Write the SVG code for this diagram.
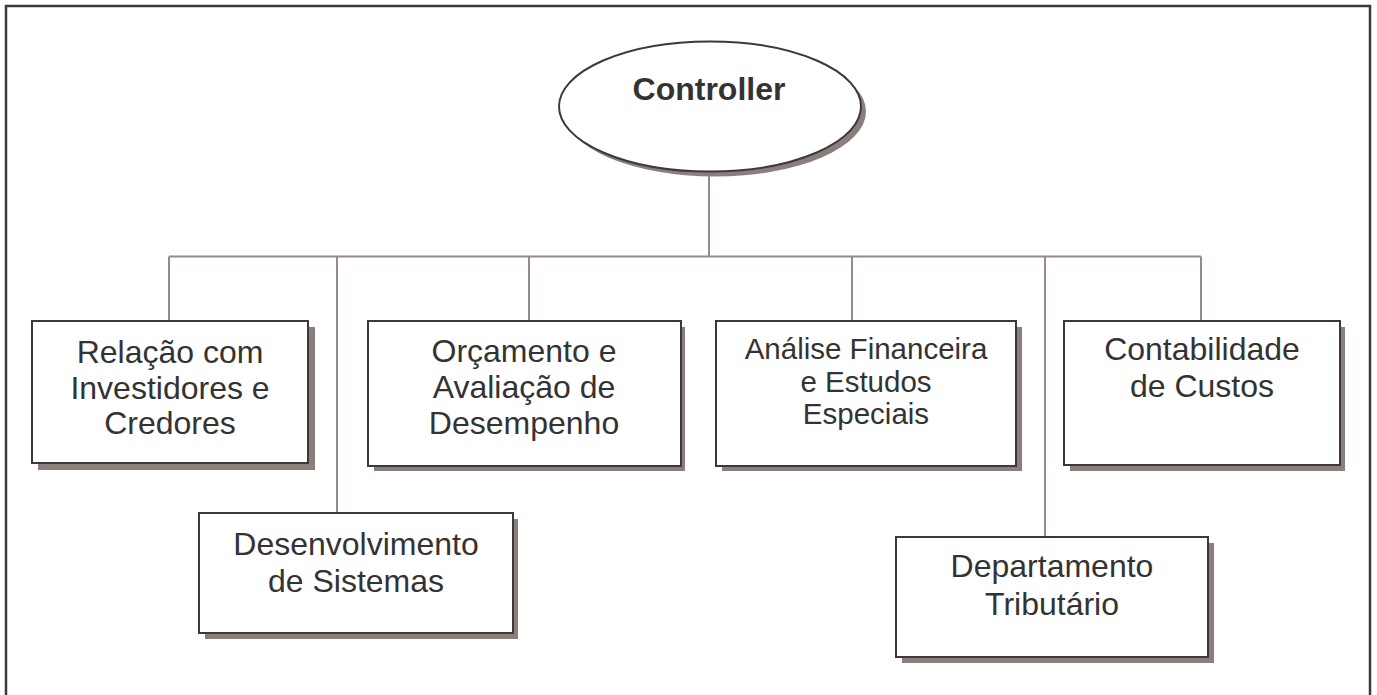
<svg xmlns="http://www.w3.org/2000/svg" width="1377" height="695" viewBox="0 0 1377 695">
<style>
.frame{fill:none;stroke:#3a3a3c;stroke-width:2.5}
.box{fill:#ffffff;stroke:#3a3a3c;stroke-width:2}
.shadow{fill:#8c7f7b}
.conn{fill:none;stroke:#988a86;stroke-width:2}
.t{font-family:"Liberation Sans",Arial,Helvetica,sans-serif;font-size:32px;fill:#333333;text-anchor:middle}
.ts{font-size:29.5px}
.tb{font-weight:bold}
</style>
<rect class="frame" x="6" y="6" width="1364" height="720"/>
<g id="connectors">
<line class="conn" x1="709" y1="172" x2="709" y2="256.5"/>
<line class="conn" x1="169" y1="256.5" x2="1201" y2="256.5"/>
<line class="conn" x1="169" y1="256.5" x2="169" y2="321"/>
<line class="conn" x1="337" y1="256.5" x2="337" y2="513"/>
<line class="conn" x1="529" y1="256.5" x2="529" y2="321"/>
<line class="conn" x1="852" y1="256.5" x2="852" y2="321"/>
<line class="conn" x1="1045" y1="256.5" x2="1045" y2="537"/>
<line class="conn" x1="1201" y1="256.5" x2="1201" y2="321"/>
</g>
<g id="controller">
<ellipse class="shadow" cx="715" cy="111.5" rx="151" ry="65"/>
<ellipse class="box" cx="710" cy="106.5" rx="151" ry="65"/>
<text class="t tb" x="709" y="100">Controller</text>
</g>
<g id="relacao">
<rect class="shadow" x="38" y="327" width="277" height="143"/>
<rect class="box" x="32" y="321" width="276" height="142"/>
<text class="t" x="170" y="363">Relação com</text>
<text class="t" x="170" y="398.5">Investidores e</text>
<text class="t" x="170" y="434">Credores</text>
</g>
<g id="desenvolvimento">
<rect class="shadow" x="205" y="519" width="313" height="120"/>
<rect class="box" x="199" y="513" width="314" height="120"/>
<text class="t" x="356" y="555">Desenvolvimento</text>
<text class="t" x="356" y="592">de Sistemas</text>
</g>
<g id="orcamento">
<rect class="shadow" x="374" y="327" width="311" height="144"/>
<rect class="box" x="368" y="321" width="313" height="145"/>
<text class="t" x="524" y="362">Orçamento e</text>
<text class="t" x="524" y="398">Avaliação de</text>
<text class="t" x="524" y="434">Desempenho</text>
</g>
<g id="analise">
<rect class="shadow" x="722" y="327" width="300" height="144"/>
<rect class="box" x="716" y="321" width="300" height="145"/>
<text class="t ts" x="866" y="359">Análise Financeira</text>
<text class="t ts" x="866" y="392">e Estudos</text>
<text class="t ts" x="866" y="424">Especiais</text>
</g>
<g id="contabilidade">
<rect class="shadow" x="1070" y="327" width="275" height="144"/>
<rect class="box" x="1064" y="321" width="276" height="144"/>
<text class="t" x="1202" y="360">Contabilidade</text>
<text class="t" x="1202" y="397">de Custos</text>
</g>
<g id="departamento">
<rect class="shadow" x="902" y="543" width="312" height="120"/>
<rect class="box" x="896" y="537" width="312" height="120"/>
<text class="t" x="1052" y="577">Departamento</text>
<text class="t" x="1052" y="615">Tributário</text>
</g>
</svg>
